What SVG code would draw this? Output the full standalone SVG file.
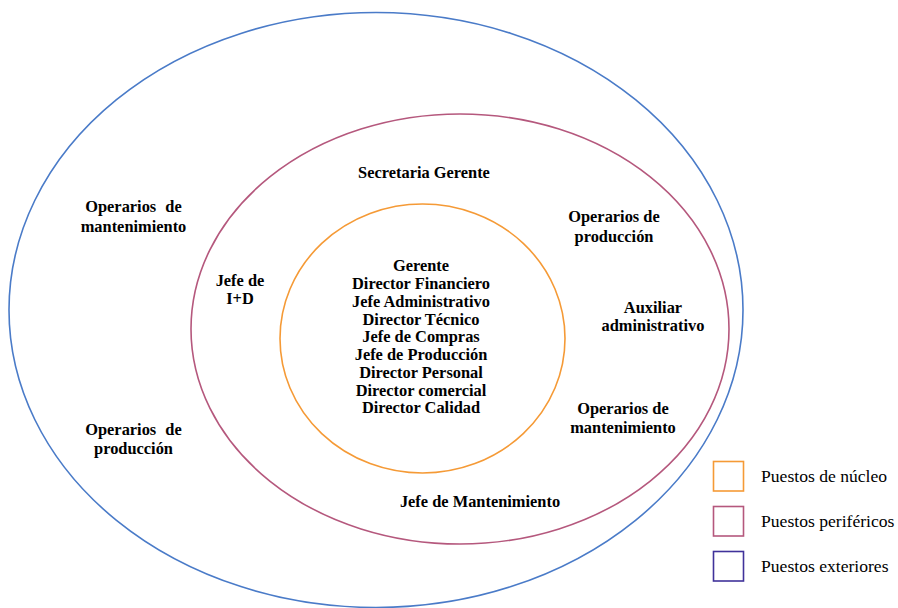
<svg xmlns="http://www.w3.org/2000/svg" width="898" height="608" viewBox="0 0 898 608">
<style>
.ring{fill:none;stroke-width:1.6}
.t{font-family:"Liberation Serif","Times New Roman",serif;font-size:16.4px;font-weight:bold;fill:#000;text-anchor:middle}
.lg{font-family:"Liberation Serif","Times New Roman",serif;font-size:17.6px;fill:#000}
.box{fill:#fff;stroke-width:1.6}
</style>
<rect width="898" height="608" fill="#fff"/>
<g id="exterior">
<ellipse class="ring" cx="376" cy="310" rx="367" ry="297.5" stroke="#4A7BC8"/>
<text class="t" x="133.5" y="212" word-spacing="5">Operarios de</text>
<text class="t" x="133.5" y="232">mantenimiento</text>
<text class="t" x="133.5" y="435" word-spacing="5">Operarios de</text>
<text class="t" x="133.5" y="454">producción</text>
</g>
<g id="periferico">
<ellipse class="ring" cx="460" cy="329" rx="269" ry="215" stroke="#B5587D"/>
<text class="t" x="424" y="178">Secretaria Gerente</text>
<text class="t" x="614" y="222">Operarios de</text>
<text class="t" x="614" y="242">producción</text>
<text class="t" x="240" y="286">Jefe de</text>
<text class="t" x="240" y="304">I+D</text>
<text class="t" x="653" y="313">Auxiliar</text>
<text class="t" x="653" y="331">administrativo</text>
<text class="t" x="623" y="414">Operarios de</text>
<text class="t" x="623" y="433">mantenimiento</text>
<text class="t" x="480" y="507">Jefe de Mantenimiento</text>
</g>
<g id="nucleo">
<ellipse class="ring" cx="422.5" cy="338.5" rx="142.5" ry="134.5" stroke="#F59A36"/>
<text class="t" x="421" y="271">Gerente</text>
<text class="t" x="421" y="289">Director Financiero</text>
<text class="t" x="421" y="306.5">Jefe Administrativo</text>
<text class="t" x="421" y="324.5">Director Técnico</text>
<text class="t" x="421" y="342">Jefe de Compras</text>
<text class="t" x="421" y="360">Jefe de Producción</text>
<text class="t" x="421" y="378">Director Personal</text>
<text class="t" x="421" y="395.5">Director comercial</text>
<text class="t" x="421" y="413">Director Calidad</text>
</g>
<g id="legend">
<rect class="box" x="713.5" y="461.5" width="30" height="29.5" stroke="#F59A36"/>
<text class="lg" x="761" y="482">Puestos de núcleo</text>
<rect class="box" x="713.5" y="506.5" width="30" height="29.5" stroke="#B5587D"/>
<text class="lg" x="761" y="527">Puestos periféricos</text>
<rect class="box" x="713.5" y="551.5" width="30" height="29.5" stroke="#40329A"/>
<text class="lg" x="761" y="572">Puestos exteriores</text>
</g>
<g id="connectors"></g>
</svg>
